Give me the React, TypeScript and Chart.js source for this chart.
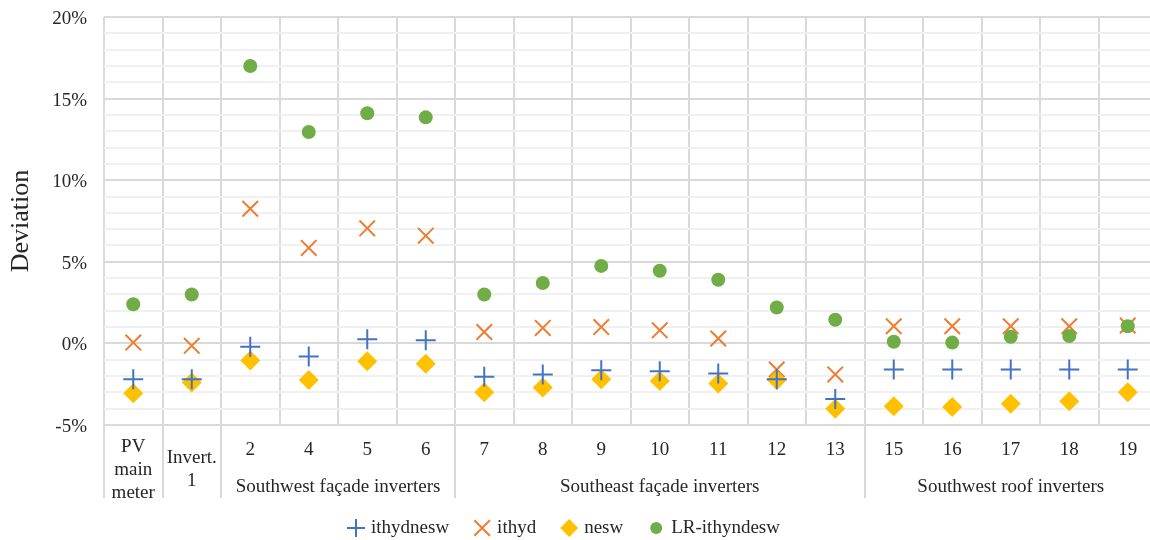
import React, { useEffect, useRef } from "react";
import { Chart, registerables } from "chart.js";

Chart.register(...registerables);

// Inverter / meter categories (multi-line labels are arrays of lines)
const categories: (string | string[])[] = [
  ["PV", "main", "meter"],
  ["Invert.", "1"],
  "2", "4", "5", "6",
  "7", "8", "9", "10", "11", "12", "13",
  "15", "16", "17", "18", "19",
];

// Outer category groups (index ranges into categories)
const groupLabels = ["Southwest façade inverters", "Southeast façade inverters", "Southwest roof inverters"];
const groupStart = [2, 6, 13];
const groupEnd = [5, 12, 17];

// Deviation in percent
const ithydnesw = [-2.2, -2.2, -0.2, -0.8, 0.25, 0.2, -2.05, -1.9, -1.65, -1.7, -1.85, -2.2, -3.4, -1.6, -1.6, -1.6, -1.6, -1.6];
const ithyd = [0.05, -0.15, 8.25, 5.85, 7.05, 6.6, 0.7, 0.95, 1.0, 0.8, 0.3, -1.6, -1.9, 1.05, 1.05, 1.05, 1.05, 1.1];
const nesw = [-3.05, -2.4, -1.05, -2.25, -1.1, -1.25, -3.0, -2.7, -2.2, -2.3, -2.45, -2.25, -4.0, -3.85, -3.9, -3.7, -3.55, -3.0];
const lrIthyndesw = [2.4, 3.0, 17.0, 12.95, 14.1, 13.85, 3.0, 3.7, 4.75, 4.45, 3.9, 2.2, 1.45, 0.1, 0.05, 0.4, 0.45, 1.05];

const yMin = -5;
const yMax = 20;
const yMajorStep = 5;

const FONT = '"Liberation Serif", "Times New Roman", serif';
const TEXT = "#262626";
const GRID_MAJOR = "#d9d9d9";
const GRID_MINOR = "#f0f0f0";

const BLUE = "#4472C4";
const ORANGE = "#ED7D31";
const GOLD = "#FFC000";
const GREEN = "#70AD47";

function drawMarker(ctx: CanvasRenderingContext2D, style: string, x: number, y: number, r: number, color: string) {
  ctx.save();
  ctx.strokeStyle = color;
  ctx.fillStyle = color;
  ctx.lineWidth = 2;
  ctx.beginPath();
  if (style === "cross") {
    ctx.moveTo(x - r, y); ctx.lineTo(x + r, y);
    ctx.moveTo(x, y - r); ctx.lineTo(x, y + r);
    ctx.stroke();
  } else if (style === "crossRot") {
    const d = r * Math.SQRT1_2;
    ctx.moveTo(x - d, y - d); ctx.lineTo(x + d, y + d);
    ctx.moveTo(x - d, y + d); ctx.lineTo(x + d, y - d);
    ctx.stroke();
  } else if (style === "rectRot") {
    ctx.moveTo(x - r, y); ctx.lineTo(x, y - r); ctx.lineTo(x + r, y); ctx.lineTo(x, y + r);
    ctx.closePath();
    ctx.fill();
  } else {
    ctx.arc(x, y, r, 0, Math.PI * 2);
    ctx.fill();
  }
  ctx.restore();
}

// Draws the two-level category axis and the legend underneath the plot
const multiLevelAxis = {
  id: "multiLevelAxis",
  afterDraw(chart: any) {
    const { ctx, chartArea } = chart;
    const xs = chart.scales.x;
    const step = xs.getPixelForValue(1) - xs.getPixelForValue(0);
    const edge = (i: number) => xs.getPixelForValue(i) - step / 2;
    const bottom = chartArea.bottom;

    ctx.save();
    ctx.strokeStyle = GRID_MAJOR;
    ctx.lineWidth = 2;
    const boundaries = [0, 1, ...groupStart, categories.length];
    for (const b of boundaries) {
      const px = Math.round(edge(b));
      ctx.beginPath();
      ctx.moveTo(px, bottom);
      ctx.lineTo(px, bottom + 73);
      ctx.stroke();
    }

    ctx.fillStyle = TEXT;
    ctx.font = `19px ${FONT}`;
    ctx.textAlign = "center";
    ctx.textBaseline = "middle";
    categories.forEach((lab, i) => {
      const cx = xs.getPixelForValue(i);
      const lines = Array.isArray(lab) ? lab : [lab];
      if (lines.length === 1) {
        ctx.fillText(lines[0], cx, bottom + 25);
      } else {
        const lh = 23;
        const start = bottom + 45 - ((lines.length - 1) * lh) / 2;
        lines.forEach((t, k) => ctx.fillText(t, cx, start + k * lh));
      }
    });
    groupLabels.forEach((g, k) => {
      const cx = (edge(groupStart[k]) + edge(groupEnd[k] + 1)) / 2;
      ctx.fillText(g, cx, bottom + 62);
    });

    // legend
    const ly = 528;
    let cursor = 347;
    ctx.textAlign = "left";
    chart.data.datasets.forEach((ds: any) => {
      const r = ds.pointStyle === "circle" ? 6 : ds.pointStyle === "crossRot" ? 11 : 9;
      const color = ds.pointStyle === "cross" || ds.pointStyle === "crossRot" ? ds.pointBorderColor : ds.pointBackgroundColor;
      drawMarker(ctx, ds.pointStyle, cursor + 9, ly, r, color);
      ctx.fillStyle = TEXT;
      const tx = cursor + 24;
      ctx.fillText(ds.label, tx, ly);
      cursor = tx + ctx.measureText(ds.label).width + 24;
    });
    ctx.restore();
  },
};

export default function App() {
  const canvasRef = useRef<HTMLCanvasElement | null>(null);

  useEffect(() => {
    if (!canvasRef.current) return;
    const chart = new Chart(canvasRef.current, {
      type: "line",
      data: {
        labels: categories,
        datasets: [
          {
            label: "ithydnesw",
            data: ithydnesw,
            showLine: false,
            pointStyle: "cross",
            pointRadius: 10,
            pointBorderWidth: 2,
            pointBorderColor: BLUE,
            pointBackgroundColor: BLUE,
            order: 1,
          },
          {
            label: "ithyd",
            data: ithyd,
            showLine: false,
            pointStyle: "crossRot",
            pointRadius: 11,
            pointBorderWidth: 2,
            pointBorderColor: ORANGE,
            pointBackgroundColor: ORANGE,
            order: 3,
          },
          {
            label: "nesw",
            data: nesw,
            showLine: false,
            pointStyle: "rectRot",
            pointRadius: 10,
            pointBorderWidth: 0,
            pointBorderColor: GOLD,
            pointBackgroundColor: GOLD,
            order: 2,
          },
          {
            label: "LR-ithyndesw",
            data: lrIthyndesw,
            showLine: false,
            pointStyle: "circle",
            pointRadius: 7,
            pointBorderWidth: 0,
            pointBorderColor: GREEN,
            pointBackgroundColor: GREEN,
            order: 0,
          },
        ],
      },
      options: {
        responsive: false,
        animation: false,
        events: [],
        layout: { padding: { top: 17, right: 18, left: 0, bottom: 0 } },
        plugins: {
          legend: { display: false },
          tooltip: { enabled: false },
        },
        scales: {
          x: {
            type: "category",
            offset: true,
            grid: { display: true, offset: true, color: GRID_MAJOR, lineWidth: 2, drawTicks: false },
            border: { display: false },
            ticks: { display: false },
            afterFit: (scale: any) => {
              scale.height = 115;
              scale.paddingLeft = 0;
              scale.paddingRight = 0;
            },
          },
          y: {
            min: yMin,
            max: yMax,
            grid: {
              drawTicks: false,
              lineWidth: 2,
              color: (c: any) => (c.tick && c.tick.value % yMajorStep === 0 ? GRID_MAJOR : GRID_MINOR),
            },
            border: { display: false },
            ticks: {
              stepSize: 1,
              maxTicksLimit: 40,
              autoSkip: false,
              padding: 17,
              labelOffset: 2,
              color: TEXT,
              font: { family: FONT, size: 19 },
              callback: (v: any) => (Number(v) % yMajorStep === 0 ? `${v}%` : ""),
            },
            title: {
              display: true,
              text: "Deviation",
              color: TEXT,
              font: { family: FONT, size: 26 },
              padding: { top: 6, bottom: 0 },
            },
            afterFit: (scale: any) => {
              scale.width = 104;
              scale.paddingTop = 0;
              scale.paddingBottom = 0;
            },
          },
        },
      },
      plugins: [multiLevelAxis],
    });
    return () => chart.destroy();
  }, []);

  return (
    <div
      style={{
        position: "fixed",
        left: 0,
        top: 0,
        width: 1150,
        height: 540,
        overflow: "hidden",
        background: "#ffffff",
      }}
    >
      <canvas ref={canvasRef} width={1175} height={540} style={{ width: 1175, height: 540, display: "block" }} />
    </div>
  );
}
